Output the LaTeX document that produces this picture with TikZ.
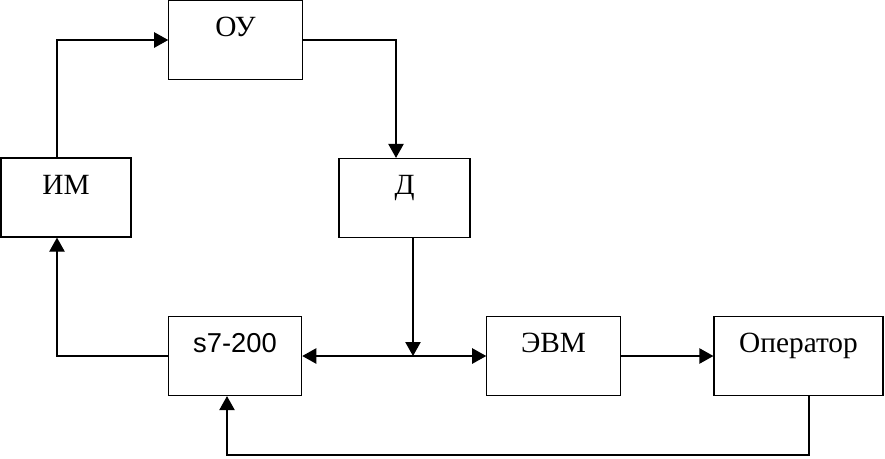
\documentclass[tikz,border=0pt]{standalone}
\usepackage{fontspec}
\setmainfont{Liberation Serif}
\newfontfamily\arialfont{Liberation Sans}
\usetikzlibrary{arrows.meta,calc}

\tikzset{every picture/.style={line width=0.9pt}}
\tikzset{
	block/.style={draw, minimum width=100pt, inner ysep=0pt, text height=27pt, text depth=32.25pt, font=\fontsize{22pt}{26pt}\selectfont},
	arr/.style={-{Triangle[length=10.5pt,width=11.5pt]}},
	arrboth/.style={{Triangle[length=10.5pt,width=11.5pt]}-{Triangle[length=10.5pt,width=11.5pt]}}
}

\begin{document}
\begin{tikzpicture}[x=0.75pt,y=0.75pt,yscale=-1,xscale=1]
	\useasboundingbox (0,0) rectangle (885,458);

	%Shape: Rectangle [id:ou]
	\node[block] (ou) at (235.5,40) {ОУ};
	%Shape: Rectangle [id:im]
	\node[block, minimum width=97.5pt] (im) at (66,197.5) {ИМ};
	%Shape: Rectangle [id:d]
	\node[block, minimum width=98.25pt] (d) at (404.5,198) {Д};
	%Shape: Rectangle [id:s7]
	\node[block, font=\arialfont\fontsize{20.5pt}{24pt}\selectfont] (s7) at (235,356) {s7-200};
	%Shape: Rectangle [id:evm]
	\node[block] (evm) at (553.5,356) {ЭВМ};
	%Shape: Rectangle [id:op]
	\node[block, minimum width=126.75pt] (op) at (798.5,356) {Оператор};

	%Corners of the lines
	\coordinate (left) at (57,40);
	\coordinate (tap) at (413,356);
	\coordinate (fbr) at (809,455);
	\coordinate (fbl) at (227,455);

	%Straight Lines [id:im-ou]
	\draw [arr] (im.north -| left) |- (ou.west);
	%Straight Lines [id:ou-d]
	\draw [arr] (ou.east) -| ($(d.north)+(-8.5,0)$);
	%Straight Lines [id:d-bus]
	\draw [arr] (d.south -| tap) -- (tap);
	%Straight Lines [id:bus]
	\draw [arrboth] (s7.east) -- (evm.west);
	%Straight Lines [id:evm-op]
	\draw [arr] (evm.east) -- (op.west);
	%Straight Lines [id:op-s7]
	\draw [arr] (op.south -| fbr) -- (fbr) -- (fbl) -- (s7.south -| fbl);
	%Straight Lines [id:s7-im]
	\draw [arr] (s7.west) -| (im.south -| left);

\end{tikzpicture}
\end{document}
